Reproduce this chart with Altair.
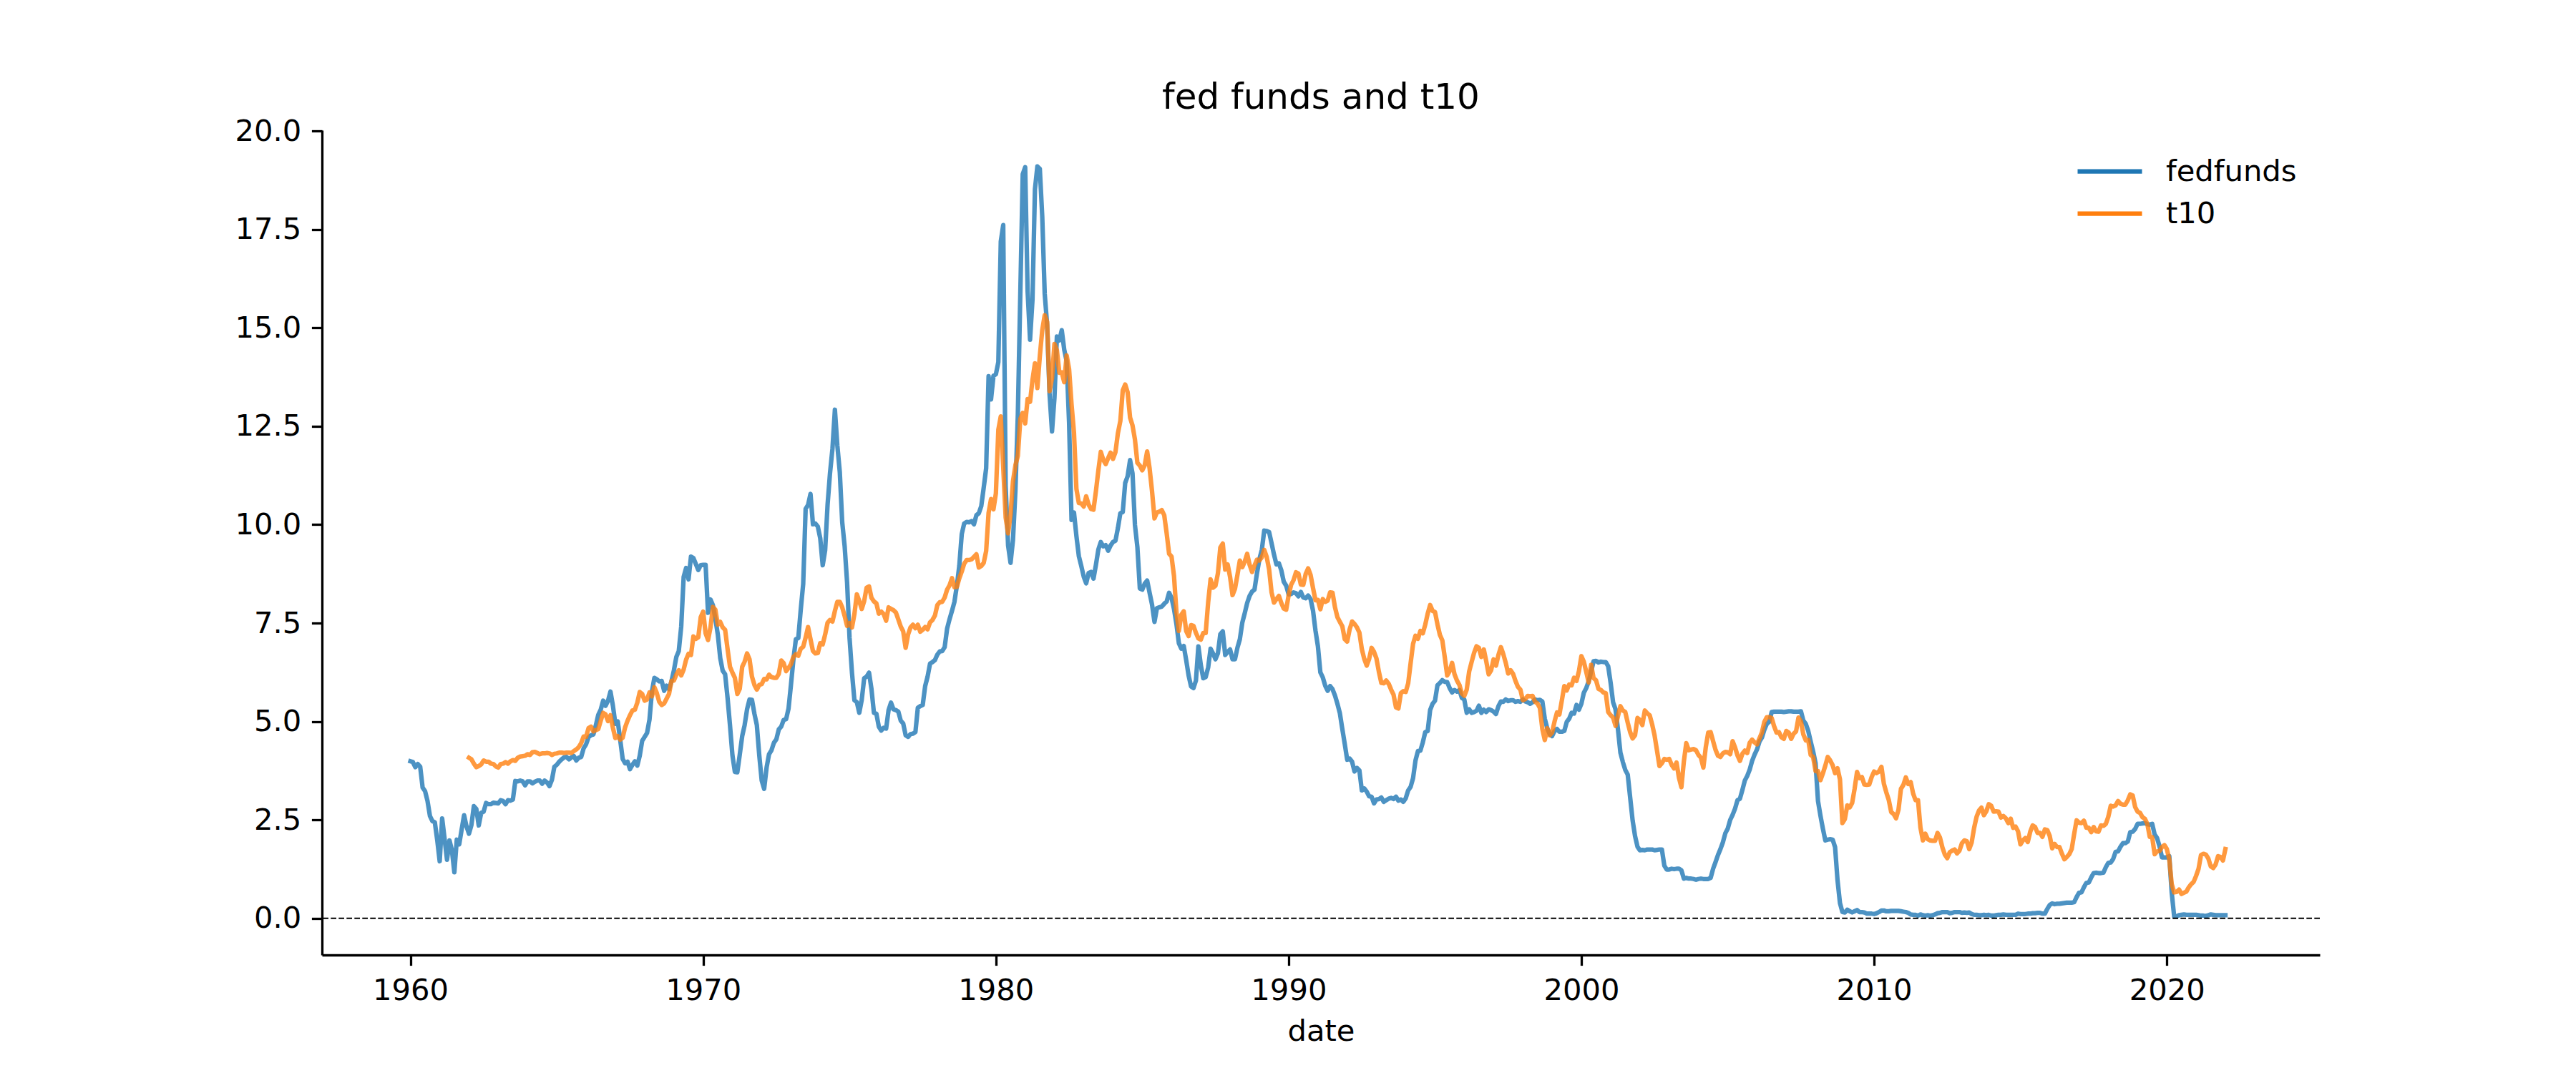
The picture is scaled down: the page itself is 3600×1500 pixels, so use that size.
import altair as alt
import pandas as pd

# ---------------- data (monthly, starting January of start year) ----------------
fed_start = 1960
fedfunds = [
    3.99, 3.97, 3.84, 3.92, 3.85, 3.32, 3.23, 2.98, 2.60, 2.47, 2.44, 1.98,
    1.45, 2.54, 2.02, 1.49, 1.98, 1.73, 1.17, 2.00, 1.88, 2.26, 2.62, 2.33,
    2.15, 2.37, 2.85, 2.78, 2.36, 2.68, 2.71, 2.93, 2.90, 2.90, 2.94, 2.93,
    2.92, 3.00, 2.98, 2.90, 3.00, 2.99, 3.02, 3.49, 3.48, 3.50, 3.48, 3.38,
    3.48, 3.48, 3.43, 3.47, 3.50, 3.50, 3.42, 3.50, 3.45, 3.36, 3.52, 3.85,
    3.90, 3.98, 4.04, 4.09, 4.10, 4.04, 4.09, 4.12, 4.01, 4.08, 4.10, 4.32,
    4.42, 4.60, 4.65, 4.67, 4.90, 5.17, 5.30, 5.53, 5.40, 5.53, 5.76, 5.40,
    4.94, 5.00, 4.53, 4.05, 3.94, 3.98, 3.79, 3.90, 3.99, 3.88, 4.13, 4.51,
    4.61, 4.71, 5.05, 5.76, 6.11, 6.07, 6.02, 6.03, 5.78, 5.91, 5.82, 6.02,
    6.30, 6.64, 6.79, 7.41, 8.67, 8.90, 8.61, 9.19, 9.15, 9.00, 8.85, 8.97,
    8.98, 8.98, 7.76, 8.10, 7.95, 7.61, 7.21, 6.61, 6.29, 6.20, 5.60, 4.90,
    4.14, 3.72, 3.71, 4.16, 4.63, 4.91, 5.31, 5.56, 5.55, 5.20, 4.91, 4.14,
    3.50, 3.29, 3.83, 4.17, 4.27, 4.46, 4.55, 4.80, 4.87, 5.04, 5.06, 5.33,
    5.94, 6.58, 7.09, 7.12, 7.84, 8.49, 10.40, 10.50, 10.78, 10.01, 10.03, 9.95,
    9.65, 8.97, 9.35, 10.51, 11.31, 11.93, 12.92, 12.01, 11.34, 10.06, 9.45, 8.53,
    7.13, 6.24, 5.54, 5.49, 5.22, 5.55, 6.10, 6.14, 6.24, 5.82, 5.22, 5.20,
    4.87, 4.77, 4.84, 4.82, 5.29, 5.48, 5.31, 5.29, 5.25, 5.02, 4.95, 4.65,
    4.61, 4.68, 4.69, 4.73, 5.35, 5.39, 5.42, 5.90, 6.14, 6.47, 6.51, 6.56,
    6.70, 6.78, 6.79, 6.89, 7.36, 7.60, 7.81, 8.04, 8.45, 8.96, 9.76, 10.03,
    10.07, 10.06, 10.09, 10.01, 10.24, 10.29, 10.47, 10.94, 11.43, 13.77, 13.18, 13.78,
    13.82, 14.13, 17.19, 17.61, 10.98, 9.47, 9.03, 9.61, 10.87, 12.81, 15.85, 18.90,
    19.08, 15.93, 14.70, 15.72, 18.52, 19.10, 19.04, 17.82, 15.87, 15.08, 13.31, 12.37,
    13.22, 14.78, 14.68, 14.94, 14.45, 14.15, 12.59, 10.12, 10.31, 9.71, 9.20, 8.95,
    8.68, 8.51, 8.77, 8.80, 8.63, 8.98, 9.37, 9.56, 9.45, 9.48, 9.34, 9.47,
    9.56, 9.59, 9.91, 10.29, 10.32, 11.06, 11.23, 11.64, 11.30, 9.99, 9.43, 8.38,
    8.35, 8.50, 8.58, 8.27, 7.97, 7.53, 7.88, 7.90, 7.92, 7.99, 8.05, 8.27,
    8.14, 7.86, 7.48, 6.99, 6.85, 6.92, 6.56, 6.17, 5.89, 5.85, 6.04, 6.91,
    6.43, 6.10, 6.13, 6.37, 6.85, 6.73, 6.58, 6.73, 7.22, 7.29, 6.69, 6.77,
    6.83, 6.58, 6.58, 6.87, 7.09, 7.51, 7.75, 8.01, 8.19, 8.30, 8.35, 8.76,
    9.12, 9.36, 9.85, 9.84, 9.81, 9.53, 9.24, 8.99, 9.02, 8.84, 8.55, 8.45,
    8.23, 8.24, 8.28, 8.26, 8.18, 8.29, 8.15, 8.13, 8.20, 8.11, 7.81, 7.31,
    6.91, 6.25, 6.12, 5.91, 5.78, 5.90, 5.82, 5.66, 5.45, 5.21, 4.81, 4.43,
    4.03, 4.06, 3.98, 3.73, 3.82, 3.76, 3.25, 3.30, 3.22, 3.10, 3.09, 2.92,
    3.02, 3.03, 3.07, 2.96, 3.00, 3.04, 3.06, 3.03, 3.09, 2.99, 3.02, 2.96,
    3.05, 3.25, 3.34, 3.56, 4.01, 4.25, 4.26, 4.47, 4.73, 4.76, 5.29, 5.45,
    5.53, 5.92, 5.98, 6.05, 6.01, 6.00, 5.85, 5.74, 5.80, 5.76, 5.80, 5.60,
    5.56, 5.22, 5.31, 5.22, 5.24, 5.27, 5.40, 5.22, 5.30, 5.24, 5.31, 5.29,
    5.25, 5.19, 5.39, 5.51, 5.50, 5.56, 5.52, 5.54, 5.54, 5.50, 5.52, 5.50,
    5.56, 5.51, 5.49, 5.45, 5.49, 5.56, 5.54, 5.55, 5.51, 5.07, 4.83, 4.68,
    4.63, 4.76, 4.81, 4.74, 4.74, 4.76, 4.99, 5.07, 5.22, 5.20, 5.42, 5.30,
    5.45, 5.73, 5.85, 6.02, 6.27, 6.53, 6.54, 6.50, 6.52, 6.51, 6.51, 6.40,
    5.98, 5.49, 5.31, 4.80, 4.21, 3.97, 3.77, 3.65, 3.07, 2.49, 2.09, 1.82,
    1.73, 1.74, 1.73, 1.75, 1.75, 1.75, 1.73, 1.74, 1.75, 1.75, 1.34, 1.24,
    1.24, 1.26, 1.25, 1.26, 1.26, 1.22, 1.01, 1.03, 1.01, 1.01, 1.00, 0.98,
    1.00, 1.01, 1.00, 1.00, 1.00, 1.03, 1.26, 1.43, 1.61, 1.76, 1.93, 2.16,
    2.28, 2.50, 2.63, 2.79, 3.00, 3.04, 3.26, 3.50, 3.62, 3.78, 4.00, 4.16,
    4.29, 4.49, 4.59, 4.79, 4.94, 4.99, 5.24, 5.25, 5.25, 5.25, 5.25, 5.24,
    5.25, 5.26, 5.26, 5.25, 5.25, 5.25, 5.26, 5.02, 4.94, 4.76, 4.49, 4.24,
    3.94, 2.98, 2.61, 2.28, 1.98, 2.00, 2.01, 2.00, 1.81, 0.97, 0.39, 0.16,
    0.15, 0.22, 0.18, 0.15, 0.18, 0.21, 0.16, 0.16, 0.15, 0.12, 0.12, 0.12,
    0.11, 0.13, 0.16, 0.20, 0.20, 0.18, 0.18, 0.19, 0.19, 0.19, 0.19, 0.18,
    0.17, 0.16, 0.14, 0.10, 0.09, 0.09, 0.07, 0.10, 0.08, 0.07, 0.08, 0.07,
    0.08, 0.10, 0.13, 0.14, 0.16, 0.16, 0.16, 0.13, 0.14, 0.16, 0.16, 0.16,
    0.14, 0.15, 0.14, 0.15, 0.11, 0.09, 0.09, 0.08, 0.08, 0.09, 0.08, 0.09,
    0.07, 0.07, 0.08, 0.09, 0.09, 0.10, 0.09, 0.09, 0.09, 0.09, 0.09, 0.12,
    0.11, 0.11, 0.11, 0.12, 0.12, 0.13, 0.13, 0.14, 0.14, 0.12, 0.12, 0.24,
    0.34, 0.38, 0.36, 0.37, 0.37, 0.38, 0.39, 0.40, 0.40, 0.40, 0.41, 0.54,
    0.65, 0.66, 0.79, 0.90, 0.91, 1.04, 1.15, 1.16, 1.15, 1.15, 1.16, 1.30,
    1.41, 1.42, 1.51, 1.69, 1.70, 1.82, 1.91, 1.91, 1.95, 2.19, 2.20, 2.27,
    2.40, 2.40, 2.41, 2.42, 2.39, 2.38, 2.40, 2.13, 2.04, 1.83, 1.55, 1.55,
    1.55, 1.58, 0.65, 0.05, 0.05, 0.08, 0.09, 0.10, 0.09, 0.09, 0.09, 0.09,
    0.09, 0.08, 0.07, 0.07, 0.06, 0.08, 0.10, 0.09, 0.08, 0.08, 0.08, 0.08,
    0.08,
]

t10_start = 1962
t10 = [
    4.08, 4.04, 3.93, 3.84, 3.87, 3.91, 4.01, 3.98, 3.98, 3.93, 3.92, 3.86,
    3.83, 3.92, 3.93, 3.97, 3.93, 3.99, 4.02, 4.00, 4.08, 4.11, 4.12, 4.13,
    4.17, 4.15, 4.22, 4.23, 4.20, 4.17, 4.19, 4.19, 4.20, 4.19, 4.15, 4.18,
    4.19, 4.21, 4.21, 4.20, 4.21, 4.21, 4.20, 4.25, 4.29, 4.35, 4.45, 4.62,
    4.61, 4.83, 4.87, 4.75, 4.78, 4.81, 5.02, 5.22, 5.18, 5.01, 5.16, 4.84,
    4.58, 4.63, 4.54, 4.59, 4.85, 5.02, 5.16, 5.28, 5.30, 5.48, 5.75, 5.70,
    5.53, 5.56, 5.74, 5.64, 5.87, 5.72, 5.50, 5.42, 5.46, 5.58, 5.70, 6.03,
    6.04, 6.19, 6.30, 6.17, 6.32, 6.57, 6.72, 6.69, 7.16, 7.10, 7.14, 7.65,
    7.79, 7.24, 7.07, 7.39, 7.91, 7.84, 7.46, 7.53, 7.39, 7.33, 6.84, 6.39,
    6.24, 6.11, 5.70, 5.83, 6.39, 6.52, 6.73, 6.58, 6.14, 5.93, 5.81, 5.93,
    5.95, 6.08, 6.07, 6.19, 6.13, 6.11, 6.11, 6.21, 6.55, 6.48, 6.28, 6.36,
    6.46, 6.64, 6.71, 6.67, 6.85, 6.90, 7.13, 7.40, 7.09, 6.79, 6.73, 6.74,
    6.99, 6.96, 7.21, 7.51, 7.58, 7.54, 7.81, 8.04, 8.04, 7.90, 7.68, 7.43,
    7.50, 7.39, 7.73, 8.23, 8.06, 7.86, 8.06, 8.40, 8.43, 8.14, 8.05, 8.00,
    7.74, 7.79, 7.73, 7.56, 7.90, 7.86, 7.83, 7.77, 7.59, 7.41, 7.29, 6.87,
    7.21, 7.39, 7.46, 7.37, 7.46, 7.28, 7.33, 7.40, 7.34, 7.52, 7.58, 7.69,
    7.96, 8.03, 8.04, 8.15, 8.35, 8.46, 8.64, 8.41, 8.42, 8.64, 8.81, 9.01,
    9.10, 9.10, 9.12, 9.18, 9.25, 8.91, 8.95, 9.03, 9.33, 10.30, 10.65, 10.39,
    10.80, 12.41, 12.75, 11.47, 10.18, 9.78, 10.25, 11.10, 11.51, 11.75, 12.68, 12.84,
    12.57, 13.19, 13.12, 13.68, 14.10, 13.47, 14.28, 14.94, 15.32, 15.15, 13.39, 13.72,
    14.59, 14.43, 13.86, 13.87, 13.62, 14.30, 13.95, 13.06, 12.34, 10.91, 10.55, 10.54,
    10.46, 10.72, 10.51, 10.40, 10.38, 10.85, 11.38, 11.85, 11.65, 11.54, 11.69, 11.83,
    11.67, 11.84, 12.32, 12.63, 13.41, 13.56, 13.36, 12.72, 12.52, 12.16, 11.57, 11.50,
    11.38, 11.51, 11.86, 11.43, 10.85, 10.16, 10.31, 10.33, 10.37, 10.24, 9.78, 9.26,
    9.19, 8.70, 7.78, 7.30, 7.71, 7.80, 7.30, 7.17, 7.45, 7.43, 7.25, 7.11,
    7.08, 7.25, 7.25, 8.02, 8.61, 8.40, 8.45, 8.76, 9.42, 9.52, 8.86, 8.99,
    8.67, 8.21, 8.37, 8.72, 9.09, 8.92, 9.06, 9.26, 8.98, 8.80, 8.96, 9.11,
    9.09, 9.17, 9.36, 9.18, 8.86, 8.28, 8.02, 8.11, 8.19, 8.01, 7.87, 7.84,
    8.21, 8.47, 8.59, 8.79, 8.76, 8.48, 8.47, 8.75, 8.89, 8.72, 8.39, 8.08,
    8.09, 7.85, 8.11, 8.04, 8.07, 8.28, 8.27, 7.90, 7.65, 7.53, 7.42, 7.09,
    7.03, 7.34, 7.54, 7.48, 7.39, 7.26, 6.84, 6.59, 6.42, 6.59, 6.87, 6.77,
    6.60, 6.26, 5.98, 5.97, 6.04, 5.96, 5.81, 5.68, 5.36, 5.33, 5.72, 5.77,
    5.75, 5.97, 6.48, 6.97, 7.18, 7.10, 7.30, 7.24, 7.46, 7.74, 7.96, 7.81,
    7.78, 7.47, 7.20, 7.06, 6.63, 6.17, 6.28, 6.49, 6.20, 6.04, 5.93, 5.71,
    5.65, 5.81, 6.27, 6.51, 6.74, 6.91, 6.87, 6.64, 6.83, 6.53, 6.20, 6.30,
    6.58, 6.42, 6.69, 6.89, 6.71, 6.49, 6.22, 6.30, 6.21, 6.03, 5.88, 5.81,
    5.54, 5.57, 5.65, 5.64, 5.65, 5.50, 5.46, 5.34, 4.81, 4.53, 4.83, 4.65,
    4.72, 5.00, 5.23, 5.18, 5.54, 5.90, 5.79, 5.94, 5.92, 6.11, 6.03, 6.28,
    6.66, 6.52, 6.26, 5.99, 6.44, 6.10, 6.05, 5.83, 5.80, 5.74, 5.72, 5.24,
    5.16, 5.10, 4.89, 5.14, 5.39, 5.28, 5.24, 4.97, 4.73, 4.57, 4.65, 5.09,
    5.04, 4.91, 5.28, 5.21, 5.16, 4.93, 4.65, 4.26, 3.87, 3.94, 4.05, 4.03,
    4.05, 3.90, 3.81, 3.96, 3.57, 3.33, 3.98, 4.45, 4.27, 4.29, 4.30, 4.27,
    4.15, 4.08, 3.83, 4.35, 4.72, 4.73, 4.50, 4.28, 4.13, 4.10, 4.19, 4.23,
    4.22, 4.17, 4.50, 4.34, 4.14, 4.00, 4.18, 4.26, 4.20, 4.46, 4.54, 4.47,
    4.42, 4.57, 4.72, 4.99, 5.11, 5.11, 5.09, 4.88, 4.72, 4.73, 4.60, 4.56,
    4.76, 4.72, 4.56, 4.69, 4.75, 5.10, 5.00, 4.67, 4.52, 4.53, 4.15, 4.10,
    3.74, 3.74, 3.51, 3.68, 3.88, 4.10, 4.01, 3.89, 3.69, 3.81, 3.53, 2.42,
    2.52, 2.87, 2.82, 2.93, 3.29, 3.72, 3.56, 3.59, 3.40, 3.39, 3.40, 3.59,
    3.73, 3.69, 3.73, 3.85, 3.42, 3.20, 3.01, 2.70, 2.65, 2.54, 2.76, 3.29,
    3.39, 3.58, 3.41, 3.46, 3.17, 3.00, 3.00, 2.30, 1.98, 2.15, 2.01, 1.98,
    1.97, 1.97, 2.17, 2.05, 1.80, 1.62, 1.53, 1.68, 1.72, 1.75, 1.65, 1.72,
    1.91, 1.98, 1.96, 1.76, 1.93, 2.30, 2.58, 2.74, 2.81, 2.62, 2.72, 2.90,
    2.86, 2.71, 2.72, 2.71, 2.56, 2.60, 2.54, 2.42, 2.53, 2.30, 2.33, 2.21,
    1.88, 1.98, 2.04, 1.94, 2.20, 2.36, 2.32, 2.17, 2.17, 2.07, 2.26, 2.24,
    2.09, 1.78, 1.89, 1.81, 1.81, 1.64, 1.50, 1.56, 1.63, 1.76, 2.14, 2.49,
    2.43, 2.42, 2.48, 2.30, 2.30, 2.19, 2.32, 2.21, 2.20, 2.36, 2.35, 2.40,
    2.58, 2.86, 2.84, 2.87, 2.98, 2.91, 2.89, 2.89, 3.00, 3.15, 3.12, 2.83,
    2.71, 2.68, 2.57, 2.53, 2.40, 2.07, 2.06, 1.63, 1.70, 1.71, 1.81, 1.86,
    1.76, 1.50, 0.87, 0.66, 0.67, 0.73, 0.62, 0.65, 0.68, 0.79, 0.87, 0.93,
    1.08, 1.26, 1.61, 1.64, 1.62, 1.52, 1.32, 1.28, 1.37, 1.58, 1.56, 1.47,
    1.76,
]

series_names = ["fedfunds", "t10"]
series_colors = ["#1f77b4", "#ff7f0e"]
x_ticks = [1960, 1970, 1980, 1990, 2000, 2010, 2020]
y_ticks = [0.0, 2.5, 5.0, 7.5, 10.0, 12.5, 15.0, 17.5, 20.0]
x_domain = [1956.979, 2025.226]
y_domain = [-0.93, 20.02]

# ---------------- build long table ----------------
rows = []
for i, v in enumerate(fedfunds):
    rows.append({"date": fed_start + i / 12.0, "value": v, "series": "fedfunds"})
for i, v in enumerate(t10):
    rows.append({"date": t10_start + i / 12.0, "value": v, "series": "t10"})
df = pd.DataFrame(rows)
zero_df = pd.DataFrame({"y": [0.0]})

FONT = "DejaVu Sans"
FS = 41.7

lines = alt.Chart(df).mark_line(
    opacity=0.8, strokeWidth=6.25, strokeJoin="round", strokeCap="square"
).encode(
    x=alt.X(
        "date:Q",
        scale=alt.Scale(domain=x_domain, nice=False, zero=False),
        axis=alt.Axis(values=x_ticks, format="d", title="date", grid=False),
    ),
    y=alt.Y(
        "value:Q",
        scale=alt.Scale(domain=y_domain, nice=False, zero=False),
        axis=alt.Axis(values=y_ticks, format=".1f", title="", grid=False),
    ),
    color=alt.Color(
        "series:N",
        scale=alt.Scale(domain=series_names, range=series_colors),
        legend=alt.Legend(
            title=None,
            orient="none",
            legendX=2465,
            legendY=24,
            symbolType="M-1.5,0L1.5,0",
            symbolSize=3600,
            symbolStrokeWidth=6.25,
            symbolOpacity=1,
            labelFontSize=FS,
            labelFont=FONT,
            labelColor="black",
            labelLimit=2000,
            labelOffset=45,
            rowPadding=3,
            padding=0,
        ),
    ),
)

zero_line = alt.Chart(zero_df).mark_rule(
    color="black", strokeWidth=2, strokeDash=[7.7, 3.3]
).encode(y="y:Q")

chart = (
    alt.layer(lines, zero_line)
    .properties(
        width=2792,
        height=1153,
        title=alt.TitleParams(
            "fed funds and t10",
            font=FONT,
            fontSize=50,
            fontWeight="normal",
            color="black",
            anchor="middle",
            frame="group",
            offset=1,
        ),
        autosize=alt.AutoSizeParams(type="none"),
        padding={"left": 442, "top": 174, "right": 340, "bottom": 150},
    )
    .configure_view(stroke=None)
    .configure_axis(
        labelFont=FONT,
        labelFontSize=FS,
        labelColor="black",
        titleFont=FONT,
        titleFontSize=FS,
        titleFontWeight="normal",
        titleColor="black",
        tickSize=14.6,
        tickWidth=3.3,
        tickColor="black",
        domainColor="black",
        domainWidth=3.3,
        labelPadding=14.6,
    )
    .configure_axisX(titlePadding=16)
)

chart.save("out.html", embed_options={"renderer": "svg", "actions": False})
